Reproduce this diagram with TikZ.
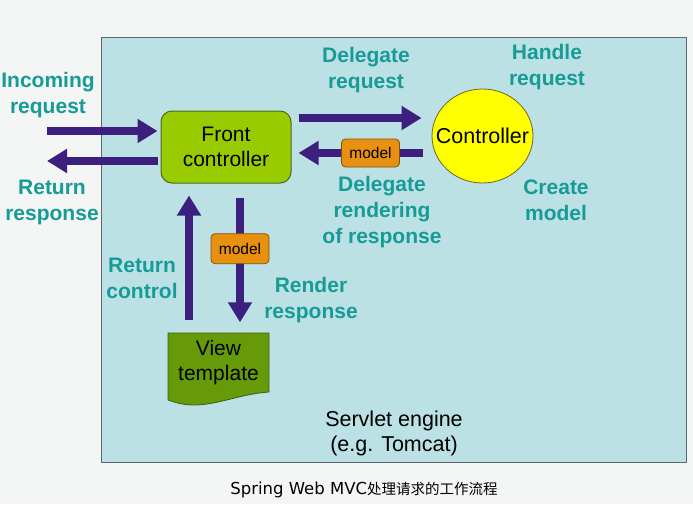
\documentclass[tikz,border=0pt]{standalone}
\usepackage{fontspec}
\setmainfont{Liberation Sans}
\newfontfamily\capfont{DejaVu Sans}
\newfontfamily\cjk{Noto Sans CJK SC}
\usetikzlibrary{arrows.meta,shapes.geometric}
\definecolor{pagebg}{HTML}{F4F5F5}
\definecolor{enginebg}{HTML}{BCE1E4}
\definecolor{engineedge}{HTML}{5E686C}
\definecolor{flowpurple}{HTML}{3C1F7E}
\definecolor{labelteal}{HTML}{169B96}
\definecolor{fcgreen}{HTML}{99CC00}
\definecolor{fcedge}{HTML}{4A6A1C}
\definecolor{viewgreen}{HTML}{669A08}
\definecolor{viewedge}{HTML}{3E5E12}
\definecolor{ctlyellow}{HTML}{FFFF00}
\definecolor{ctledge}{HTML}{66662E}
\definecolor{modelorange}{HTML}{E8900F}
\definecolor{modeledge}{HTML}{805212}
\begin{document}
\begin{tikzpicture}[x=1pt,y=-1pt,>={Triangle[length=20pt,width=23pt]},
    flow/.style={->,line width=7.5pt,draw=flowpurple},
    lbl/.style={text=labelteal,font=\fontsize{21}{26}\selectfont\bfseries,align=center},
    modelbox/.style={draw=modeledge,fill=modelorange,line width=0.8pt,rounded corners=4pt,
        minimum width=58pt,minimum height=28pt,inner sep=0pt,font=\fontsize{15.5}{18}\selectfont}]
    \fill[pagebg] (0,0) rectangle (693,504);
    \useasboundingbox (0,0) rectangle (693,504);
    % servlet engine
    \draw[engineedge,fill=enginebg,line width=1pt] (101,37) rectangle (686,462);
    \node[font=\fontsize{21.5}{25}\selectfont,align=center] (engine) at (394,433) {Servlet engine\\(e.g. Tomcat)};
    % main parts
    \node[draw=fcedge,fill=fcgreen,line width=1pt,rounded corners=11pt,minimum width=130pt,minimum height=72pt,
        align=center,font=\fontsize{21}{25}\selectfont] (fc) at (226,147) {Front\\controller};
    \node[ellipse,draw=ctledge,fill=ctlyellow,line width=0.8pt,minimum width=101pt,minimum height=94pt,inner sep=0pt,
        label={[font=\fontsize{21.5}{25}\selectfont]center:Controller}] (ctl) at (482.5,136) {};
    \draw[viewedge,fill=viewgreen,line width=0.8pt] (168,333) -- (269,333) -- (269,392)
        .. controls (240,394) and (218,405) .. (194,405) .. controls (182,405) and (174,402) .. (168,400) -- cycle;
    \node[minimum width=101pt,minimum height=59pt,align=center,font=\fontsize{21}{25}\selectfont] (view) at (218.5,363) {View\\template};
    % free ends
    \coordinate (in) at (47,131);
    \coordinate (out) at (47,161);
    % arrows
    \draw[flow,shorten >=3pt] (in) -- ([yshift=16pt]fc.west);
    \draw[flow,shorten <=3pt] ([yshift=-14pt]fc.west) -- (out);
    \draw[flow] ([shift={(7pt,29pt)}]fc.east) -- ([shift={(-10pt,18pt)}]ctl.west);
    \draw[flow] ([shift={(-9pt,-17pt)}]ctl.west) -- node[modelbox,pos=0.42]{model} ([shift={(7pt,-6pt)}]fc.east);
    \draw[flow] ([shift={(-29.5pt,13pt)}]view.north) -- ([shift={(-37pt,-12pt)}]fc.south);
    \draw[flow] ([shift={(14pt,-14pt)}]fc.south) -- node[modelbox,pos=0.41,minimum height=30pt]{model} ([shift={(21.5pt,11pt)}]view.north);
    % labels
    \node[lbl] (lin) at (48,95) {Incoming\\request};
    \node[lbl] (lout) at (52,202) {Return\\response};
    \node[lbl] (ldreq) at (366,70) {Delegate\\request};
    \node[lbl] (lhandle) at (547,67) {Handle\\request};
    \node[lbl] (ldrend) at (382,212) {Delegate\\rendering\\of response};
    \node[lbl] (lcreate) at (556,200) {Create\\model};
    \node[lbl] (lretctl) at (142,278) {Return\\control};
    \node[lbl] (lrender) at (311,300) {Render\\response};
    % caption
    \node (caption) at (364,490) {{\capfont\fontsize{16.5}{18}\selectfont Spring Web MVC}{\cjk\fontsize{14.5}{18}\selectfont 处理请求的工作流程}};
\end{tikzpicture}
\end{document}
